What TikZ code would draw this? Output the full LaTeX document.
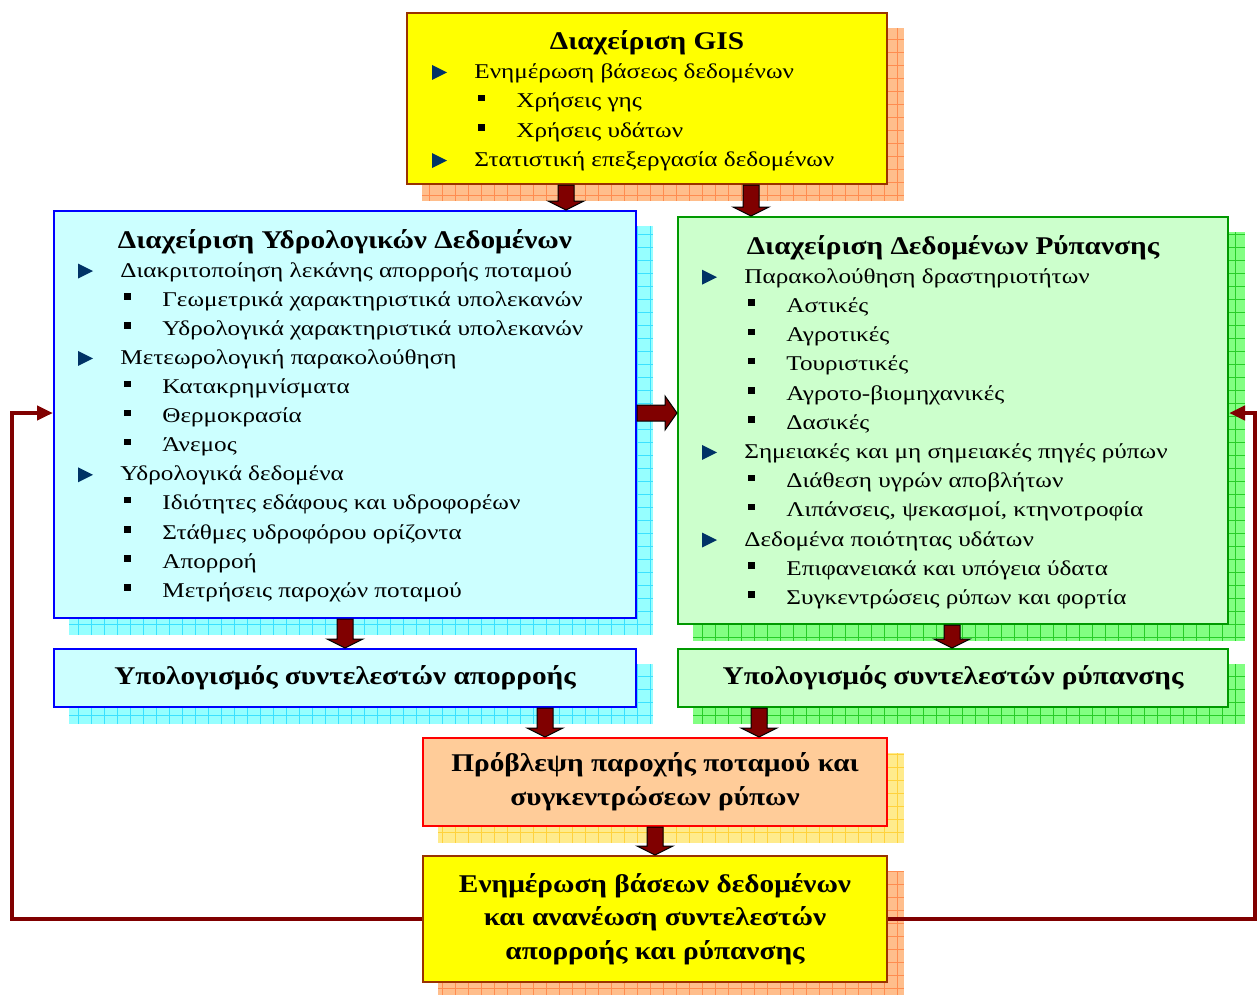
\documentclass[tikz,border=0pt]{standalone}
\usepackage{fontspec}
\setmainfont{Liberation Serif}
\newfontfamily\itemfont{Liberation Serif}[FakeStretch=1.2]
\newfontfamily\headfont{Liberation Serif}[FakeStretch=1.15]
\usetikzlibrary{calc,backgrounds,arrows.meta}

\definecolor{gisyellow}{RGB}{255,255,0}
\definecolor{gisborder}{RGB}{153,51,0}
\definecolor{orangeshd}{RGB}{255,190,140}
\definecolor{orangegrid}{RGB}{255,140,80}
\definecolor{hydfill}{RGB}{204,255,255}
\definecolor{hydborder}{RGB}{0,0,255}
\definecolor{cyanshd}{RGB}{150,255,255}
\definecolor{cyangrid}{RGB}{60,225,255}
\definecolor{polfill}{RGB}{204,255,204}
\definecolor{polborder}{RGB}{0,153,0}
\definecolor{greenshd}{RGB}{130,255,130}
\definecolor{greengrid}{RGB}{40,205,40}
\definecolor{fcfill}{RGB}{255,204,153}
\definecolor{fcborder}{RGB}{255,0,0}
\definecolor{yellowshd}{RGB}{255,235,140}
\definecolor{yellowgrid}{RGB}{255,210,60}
\definecolor{arrowred}{RGB}{128,0,0}
\definecolor{bulletblue}{RGB}{0,51,102}

\tikzset{every picture/.style={line width=0.75pt}}

\tikzset{
  box/.style={draw, line width=2pt, anchor=north west, inner sep=0pt},
  boxtitle/.style={anchor=base, inner sep=0pt, font=\headfont\fontsize{25.5}{33}\selectfont\bfseries},
  boldbox/.style={box, align=center, font=\headfont\fontsize{25.5}{34}\selectfont\bfseries},
  itemtxt/.style={anchor=base west, inner sep=0pt, font=\itemfont\fontsize{21}{29}\selectfont},
  blockarrow/.style={draw=black, line width=1pt, fill=arrowred},
  fbline/.style={draw=arrowred, line width=4pt, -{Triangle[length=16pt,width=14pt]}},
  pics/bul1/.style={code={\fill[bulletblue] (-42,13.5) -- (-27,6) -- (-42,-1.5) -- cycle;}},
  pics/bul2/.style={code={\fill[black] (-38,13) rectangle (-31,6.5);}},
}

% patterned shadow behind a box
\newcommand\gridshadow[3]{%
  \fill[#2] ($(#1.north west)+(16,16)$) rectangle ($(#1.south east)+(16,16)$);
  \draw[#3, line width=0.6pt, step=13pt] ($(#1.north west)+(16,16)$) grid ($(#1.south east)+(16,16)$);
}
% block arrow pointing down: x, from node, to node
\newcommand\downblock[3]{%
  \draw[blockarrow] let \p1=(#2.south), \p2=(#3.north), \p3=(#1,0) in
    (\x3-8pt,\y1) -- (\x3+8pt,\y1) -- (\x3+8pt,\y2-9pt) -- (\x3+18pt,\y2-9pt)
    -- (\x3,\y2) -- (\x3-18pt,\y2-9pt) -- (\x3-8pt,\y2-9pt) -- cycle;
}
% block arrow pointing right: y, from node, to node
\newcommand\rightblock[3]{%
  \draw[blockarrow] let \p1=(#2.east), \p2=(#3.west), \p3=(0,#1) in
    (\x1,\y3+8pt) -- (\x2-12pt,\y3+8pt) -- (\x2-12pt,\y3+17pt) -- (\x2,\y3)
    -- (\x2-12pt,\y3-17pt) -- (\x2-12pt,\y3-8pt) -- (\x1,\y3-8pt) -- cycle;
}

\begin{document}
\begin{tikzpicture}[x=1pt,y=1pt,yscale=-1,xscale=1]
\useasboundingbox (0,0) rectangle (1258,994);

%Boxes
\node[box, fill=gisyellow, draw=gisborder, minimum width=480pt, minimum height=171pt] (gis) at (406,12) {};
\node[box, fill=hydfill, draw=hydborder, minimum width=582pt, minimum height=407pt] (hyd) at (53,210) {};
\node[box, fill=polfill, draw=polborder, minimum width=550pt, minimum height=407pt] (pol) at (677,216) {};
\node[boldbox, fill=hydfill, draw=hydborder, minimum width=582pt, minimum height=58pt] (run) at (53,648) {Υπολογισμός συντελεστών απορροής};
\node[boldbox, fill=polfill, draw=polborder, minimum width=550pt, minimum height=58pt] (pco) at (677,648) {Υπολογισμός συντελεστών ρύπανσης};
\node[boldbox, fill=fcfill, draw=fcborder, minimum width=464pt, minimum height=88pt] (fc) at (422,737) {Πρόβλεψη παροχής ποταμού και\\συγκεντρώσεων ρύπων};
\node[boldbox, fill=gisyellow, draw=gisborder, minimum width=464pt, minimum height=126pt, font=\headfont\fontsize{25.5}{33.5}\selectfont\bfseries] (upd) at (422,855) {Ενημέρωση βάσεων δεδομένων\\και ανανέωση συντελεστών\\απορροής και ρύπανσης};

%Shadows
\begin{scope}[on background layer]
\gridshadow{gis}{orangeshd}{orangegrid}
\gridshadow{hyd}{cyanshd}{cyangrid}
\gridshadow{pol}{greenshd}{greengrid}
\gridshadow{run}{cyanshd}{cyangrid}
\gridshadow{pco}{greenshd}{greengrid}
\gridshadow{fc}{yellowshd}{yellowgrid}
\gridshadow{upd}{orangeshd}{orangegrid}
\end{scope}

% Titles
\node[boxtitle] (gis-t) at ($(gis.north)+(0,37)$) {Διαχείριση GIS};
\node[boxtitle] (hyd-t) at ($(hyd.north)+(0,38)$) {Διαχείριση Υδρολογικών Δεδομένων};
\node[boxtitle] (pol-t) at ($(pol.north)+(0,38)$) {Διαχείριση Δεδομένων Ρύπανσης};

% Lists
\foreach \lvl/\txt [count=\i] in {1/Ενημέρωση βάσεως δεδομένων, 2/Χρήσεις γης, 2/Χρήσεις υδάτων, 1/Στατιστική επεξεργασία δεδομένων}{
  \node[itemtxt] (gis-\i) at ($(gis.north west)+(26+42*\lvl,37+29.4*\i)$) {\txt};
  \pic at (gis-\i.base west) {bul\lvl};
}
\foreach \lvl/\txt [count=\i] in {1/Διακριτοποίηση λεκάνης απορροής ποταμού, 2/Γεωμετρικά χαρακτηριστικά υπολεκανών, 2/Υδρολογικά χαρακτηριστικά υπολεκανών, 1/Μετεωρολογική παρακολούθηση, 2/Κατακρημνίσματα, 2/Θερμοκρασία, 2/Άνεμος, 1/Υδρολογικά δεδομένα, 2/Ιδιότητες εδάφους και υδροφορέων, 2/Στάθμες υδροφόρου ορίζοντα, 2/Απορροή, 2/Μετρήσεις παροχών ποταμού}{
  \node[itemtxt] (hyd-\i) at ($(hyd.north west)+(25+42*\lvl,38+29.1*\i)$) {\txt};
  \pic at (hyd-\i.base west) {bul\lvl};
}
\foreach \lvl/\txt [count=\i] in {1/Παρακολούθηση δραστηριοτήτων, 2/Αστικές, 2/Αγροτικές, 2/Τουριστικές, 2/Αγροτο-βιομηχανικές, 2/Δασικές, 1/Σημειακές και μη σημειακές πηγές ρύπων, 2/Διάθεση υγρών αποβλήτων, 2/{Λιπάνσεις, ψεκασμοί, κτηνοτροφία}, 1/Δεδομένα ποιότητας υδάτων, 2/Επιφανειακά και υπόγεια ύδατα, 2/Συγκεντρώσεις ρύπων και φορτία}{
  \node[itemtxt] (pol-\i) at ($(pol.north west)+(25+42*\lvl,38+29.2*\i)$) {\txt};
  \pic at (pol-\i.base west) {bul\lvl};
}

% Block arrows
\downblock{566}{gis}{hyd}
\downblock{751}{gis}{pol}
\rightblock{413}{hyd}{pol}
\downblock{345}{hyd}{run}
\downblock{952}{pol}{pco}
\downblock{545}{run}{fc}
\downblock{759}{pco}{fc}
\downblock{655}{fc}{upd}

% Feedback loops
\coordinate (lret) at (12,413);
\coordinate (rret) at (1255,413);
\draw[fbline] (upd.west) -| (lret) -- (lret -| hyd.west);
\draw[fbline] (upd.east) -| (rret) -- (rret -| pol.east);

\end{tikzpicture}
\end{document}
